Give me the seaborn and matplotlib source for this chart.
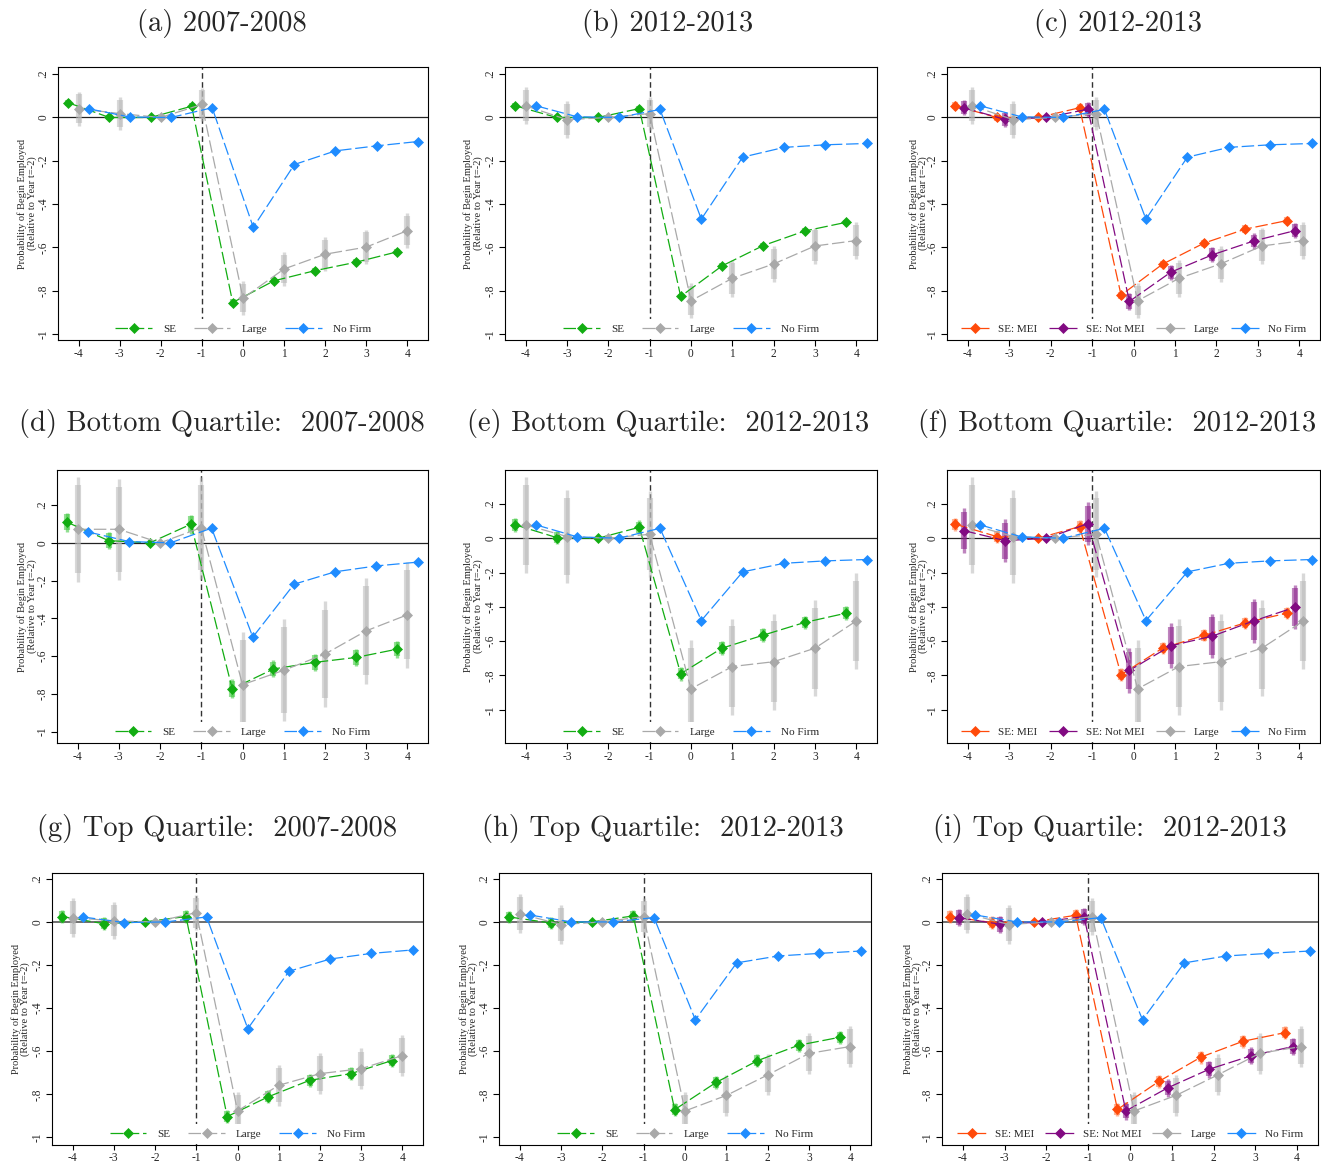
import numpy as np
import pandas as pd
import matplotlib
matplotlib.use("Agg")
import matplotlib.pyplot as plt
import seaborn as sns
from matplotlib.ticker import FuncFormatter

sns.set_theme(style="ticks")
plt.rcParams['font.family'] = ['Liberation Serif', 'DejaVu Serif']
plt.rcParams['axes.unicode_minus'] = False

# ---------------- data ----------------
periods = [-4, -3, -2, -1, 0, 1, 2, 3, 4]

titles = ["(a) 2007-2008", "(b) 2012-2013", "(c) 2012-2013",
          "(d) Bottom Quartile:  2007-2008", "(e) Bottom Quartile:  2012-2013",
          "(f) Bottom Quartile:  2012-2013",
          "(g) Top Quartile:  2007-2008", "(h) Top Quartile:  2012-2013",
          "(i) Top Quartile:  2012-2013"]

# (a) all, 2007-2008
a_se = [0.068, 0.000, 0, 0.052, -0.854, -0.754, -0.707, -0.668, -0.620]
a_large = [0.041, 0.018, 0, 0.060, -0.834, -0.699, -0.631, -0.598, -0.522]
a_nofirm = [0.040, 0.002, 0, 0.045, -0.507, -0.217, -0.154, -0.131, -0.111]
a_se_ci = [0.016, 0.016, 0, 0.016, 0.018, 0.016, 0.016, 0.016, 0.016]
a_large_ci = [0.078, 0.075, 0, 0.078, 0.078, 0.078, 0.078, 0.080, 0.080]

# (b) all, 2012-2013
b_se = [0.054, 0.000, 0, 0.041, -0.826, -0.685, -0.591, -0.524, -0.484]
b_large = [0.054, -0.010, 0, 0.018, -0.846, -0.742, -0.676, -0.593, -0.568]
b_nofirm = [0.054, 0.003, 0, 0.037, -0.469, -0.183, -0.138, -0.126, -0.120]
b_se_ci = [0.015, 0.015, 0, 0.015, 0.016, 0.015, 0.015, 0.015, 0.015]
b_large_ci = [0.085, 0.085, 0, 0.075, 0.080, 0.085, 0.082, 0.085, 0.085]

# (c) all, 2012-2013, SE split by MEI
c_mei = [0.054, 0.000, 0, 0.045, -0.820, -0.677, -0.580, -0.515, -0.476]
c_notmei = [0.045, -0.009, 0, 0.038, -0.849, -0.714, -0.634, -0.570, -0.522]
c_large = [0.054, -0.010, 0, 0.018, -0.846, -0.742, -0.676, -0.593, -0.568]
c_nofirm = [0.054, 0.003, 0, 0.037, -0.469, -0.183, -0.138, -0.126, -0.120]
c_mei_ci = [0.020, 0.018, 0, 0.020, 0.020, 0.020, 0.020, 0.020, 0.020]
c_notmei_ci = [0.035, 0.035, 0, 0.035, 0.040, 0.035, 0.035, 0.035, 0.035]
c_large_ci = [0.085, 0.085, 0, 0.075, 0.080, 0.085, 0.082, 0.085, 0.085]

# (d) bottom quartile, 2007-2008
d_se = [0.109, 0.012, 0, 0.099, -0.773, -0.668, -0.633, -0.607, -0.563]
d_large = [0.072, 0.072, 0, 0.081, -0.751, -0.675, -0.589, -0.466, -0.381]
d_nofirm = [0.058, 0.007, 0, 0.078, -0.499, -0.219, -0.153, -0.122, -0.102]
d_se_ci = [0.050, 0.045, 0, 0.050, 0.050, 0.045, 0.045, 0.045, 0.045]
d_large_ci = [0.278, 0.267, 0, 0.270, 0.280, 0.270, 0.280, 0.280, 0.280]

# (e) bottom quartile, 2012-2013
e_se = [0.078, 0.004, 0, 0.064, -0.790, -0.641, -0.565, -0.491, -0.437]
e_large = [0.078, 0.010, 0, 0.023, -0.878, -0.748, -0.720, -0.641, -0.482]
e_nofirm = [0.078, 0.008, 0, 0.058, -0.480, -0.196, -0.146, -0.132, -0.124]
e_se_ci = [0.040, 0.038, 0, 0.040, 0.040, 0.040, 0.040, 0.040, 0.040]
e_large_ci = [0.280, 0.270, 0, 0.250, 0.285, 0.280, 0.280, 0.280, 0.280]

# (f) bottom quartile, 2012-2013, SE split by MEI
f_mei = [0.082, 0.010, 0, 0.068, -0.796, -0.641, -0.567, -0.493, -0.437]
f_notmei = [0.045, -0.014, 0, 0.085, -0.771, -0.627, -0.571, -0.482, -0.402]
f_large = [0.078, 0.010, 0, 0.023, -0.878, -0.748, -0.720, -0.641, -0.482]
f_nofirm = [0.078, 0.008, 0, 0.058, -0.480, -0.196, -0.146, -0.132, -0.124]
f_mei_ci = [0.038, 0.035, 0, 0.038, 0.038, 0.035, 0.035, 0.035, 0.035]
f_notmei_ci = [0.130, 0.125, 0, 0.125, 0.130, 0.130, 0.130, 0.130, 0.130]
f_large_ci = [0.280, 0.270, 0, 0.250, 0.285, 0.280, 0.280, 0.280, 0.280]

# (g) top quartile, 2007-2008
g_se = [0.025, -0.008, 0, 0.025, -0.903, -0.811, -0.735, -0.704, -0.643]
g_large = [0.020, 0.005, 0, 0.043, -0.877, -0.758, -0.704, -0.681, -0.620]
g_nofirm = [0.023, -0.003, 0, 0.023, -0.495, -0.229, -0.172, -0.146, -0.130]
g_se_ci = [0.030, 0.030, 0, 0.030, 0.030, 0.030, 0.030, 0.030, 0.030]
g_large_ci = [0.090, 0.086, 0, 0.082, 0.090, 0.095, 0.095, 0.095, 0.095]

# (h) top quartile, 2012-2013
h_se = [0.023, -0.005, 0, 0.028, -0.871, -0.745, -0.644, -0.572, -0.535]
h_large = [0.038, -0.012, 0, 0.025, -0.877, -0.805, -0.710, -0.610, -0.578]
h_nofirm = [0.032, 0.000, 0, 0.020, -0.454, -0.190, -0.158, -0.146, -0.135]
h_se_ci = [0.030, 0.028, 0, 0.028, 0.030, 0.030, 0.030, 0.030, 0.030]
h_large_ci = [0.090, 0.090, 0, 0.085, 0.090, 0.095, 0.095, 0.095, 0.095]

# (i) top quartile, 2012-2013, SE split by MEI
i_mei = [0.025, -0.003, 0, 0.031, -0.870, -0.739, -0.627, -0.554, -0.514]
i_notmei = [0.020, -0.011, 0, 0.025, -0.877, -0.770, -0.683, -0.621, -0.578]
i_large = [0.038, -0.012, 0, 0.025, -0.877, -0.805, -0.710, -0.610, -0.578]
i_nofirm = [0.032, 0.000, 0, 0.020, -0.454, -0.190, -0.158, -0.146, -0.135]
i_mei_ci = [0.030, 0.030, 0, 0.030, 0.030, 0.030, 0.030, 0.030, 0.030]
i_notmei_ci = [0.040, 0.040, 0, 0.040, 0.040, 0.040, 0.040, 0.040, 0.040]
i_large_ci = [0.090, 0.090, 0, 0.085, 0.090, 0.095, 0.095, 0.095, 0.095]

nofirm_ci = [0.006, 0.004, 0, 0.006, 0.008, 0.006, 0.006, 0.006, 0.006]

ylims = [(-1.027, 0.233)] * 3 + [(-1.06, 0.386), (-1.194, 0.398), (-1.194, 0.398)] \
        + [(-1.035, 0.227)] * 3

# ---------------- style ----------------
COL = {"SE": "#12ad12", "SE: MEI": "#ff4a0a", "SE: Not MEI": "#820a82",
       "Large": "#a9a9a9", "No Firm": "#1f8cff"}
CICOL = {"SE": "#38c638", "SE: MEI": "#ff7a45", "SE: Not MEI": "#8a1f8a",
         "Large": "#b8b8b8", "No Firm": "#1f8cff"}

W, H = 1321, 1165
fig = plt.figure(figsize=(W / 100, H / 100), dpi=100)

rows_px = [(67, 340), (470, 743), (873, 1145)]
cols_px = [[(58, 428), (505, 877), (947, 1320)],
           [(57, 428), (505, 877), (947, 1320)],
           [(52, 423), (499, 871), (942, 1318)]]
ylab_x = [[-0.057, -0.059, -0.050], [-0.054, -0.059, -0.050], [-0.059, -0.056, -0.052]]
title_pos = [[(222, 31), (668, 31), (1118, 31)],
             [(222, 431), (668, 431), (1117, 431)],
             [(217, 836), (663, 836), (1110, 836)]]

panel_series = [
    [("SE", a_se, a_se_ci), ("Large", a_large, a_large_ci), ("No Firm", a_nofirm, nofirm_ci)],
    [("SE", b_se, b_se_ci), ("Large", b_large, b_large_ci), ("No Firm", b_nofirm, nofirm_ci)],
    [("SE: MEI", c_mei, c_mei_ci), ("SE: Not MEI", c_notmei, c_notmei_ci),
     ("Large", c_large, c_large_ci), ("No Firm", c_nofirm, nofirm_ci)],
    [("SE", d_se, d_se_ci), ("Large", d_large, d_large_ci), ("No Firm", d_nofirm, nofirm_ci)],
    [("SE", e_se, e_se_ci), ("Large", e_large, e_large_ci), ("No Firm", e_nofirm, nofirm_ci)],
    [("SE: MEI", f_mei, f_mei_ci), ("SE: Not MEI", f_notmei, f_notmei_ci),
     ("Large", f_large, f_large_ci), ("No Firm", f_nofirm, nofirm_ci)],
    [("SE", g_se, g_se_ci), ("Large", g_large, g_large_ci), ("No Firm", g_nofirm, nofirm_ci)],
    [("SE", h_se, h_se_ci), ("Large", h_large, h_large_ci), ("No Firm", h_nofirm, nofirm_ci)],
    [("SE: MEI", i_mei, i_mei_ci), ("SE: Not MEI", i_notmei, i_notmei_ci),
     ("Large", i_large, i_large_ci), ("No Firm", i_nofirm, nofirm_ci)],
]


def yfmt(v, _):
    if abs(v - round(v)) < 1e-9:
        return str(int(round(v)))
    s = "%.1f" % v
    return s.replace("0.", ".")


for k in range(9):
    r, c = divmod(k, 3)
    top, bot = rows_px[r]
    left, right = cols_px[r][c]
    ax = fig.add_axes([left / W, 1 - bot / H, (right - left) / W, (bot - top) / H])
    series = panel_series[k]
    offs = [-0.25, 0.0, 0.25] if len(series) == 3 else [-0.3, -0.1, 0.1, 0.3]

    zero_col = "#555555" if r == 2 else "#222222"
    ax.axhline(0, color=zero_col, lw=1.2 if r == 2 else 0.9, zorder=1)
    ax.axvline(-1, color="#333333", lw=1.0, linestyle=(0, (4, 2.5)), zorder=1)

    for (label, vals, ci), off in zip(series, offs):
        x = np.array(periods, dtype=float) + off
        y = np.array(vals, dtype=float)
        ci = np.array(ci, dtype=float)
        m = ci > 0
        ax.vlines(x[m], (y - ci)[m], (y + ci)[m], color=CICOL[label], lw=2.4,
                  alpha=0.55, zorder=2)
        ax.vlines(x[m], (y - 0.84 * ci)[m], (y + 0.84 * ci)[m], color=CICOL[label],
                  lw=4.4, alpha=0.55, zorder=2)
        df = pd.DataFrame({"t": x, "coef": y})
        sns.lineplot(data=df, x="t", y="coef", ax=ax, color=COL[label], lw=0.9,
                     linestyle=(0, (10, 3)), marker="D", markersize=5.2,
                     markeredgecolor=COL[label], markeredgewidth=0.5,
                     label=label, legend=False, sort=False, errorbar=None, zorder=3)

    ax.set_xlim(-4.5, 4.5)
    ax.set_ylim(*ylims[k])
    ax.set_xticks(periods)
    ax.set_yticks([-1, -0.8, -0.6, -0.4, -0.2, 0, 0.2])
    ax.yaxis.set_major_formatter(FuncFormatter(yfmt))
    ax.set_xlabel("")
    ax.set_ylabel("Probability of Begin Employed\n(Relative to Year t=-2)",
                  fontsize=7.5, linespacing=1.0)
    ax.yaxis.set_label_coords(ylab_x[r][c], 0.5)
    ax.tick_params(axis="both", labelsize=8.3, length=4, width=0.8, color="black",
                   pad=2)
    if r == 2:
        ax.tick_params(axis="x", length=3.5, pad=1.2)
    ax.tick_params(axis="y", labelrotation=90)
    for t in ax.get_yticklabels():
        t.set_va("center")
    for sp in ax.spines.values():
        sp.set_visible(True)
        sp.set_color("black")
        sp.set_linewidth(0.8)

    handles, labels = ax.get_legend_handles_labels()
    if len(series) == 3:
        lkw = dict(handlelength=3.3, handletextpad=1.0, columnspacing=1.6)
    else:
        lkw = dict(handlelength=2.6, handletextpad=0.8, columnspacing=1.0)
    leg = ax.legend(handles, labels, loc="lower center", bbox_to_anchor=(0.5, 0.0),
                    ncol=len(series), fontsize=8, frameon=True, fancybox=False,
                    facecolor="white", edgecolor="none", framealpha=1.0,
                    borderaxespad=0.1, borderpad=0.45, numpoints=1, **lkw)

    tx, ty = title_pos[r][c]
    fig.text(tx / W, 1 - ty / H, titles[k], ha="center", va="baseline",
             fontsize=20.6, family="cmr10")

fig.savefig("out.png", dpi=100)
